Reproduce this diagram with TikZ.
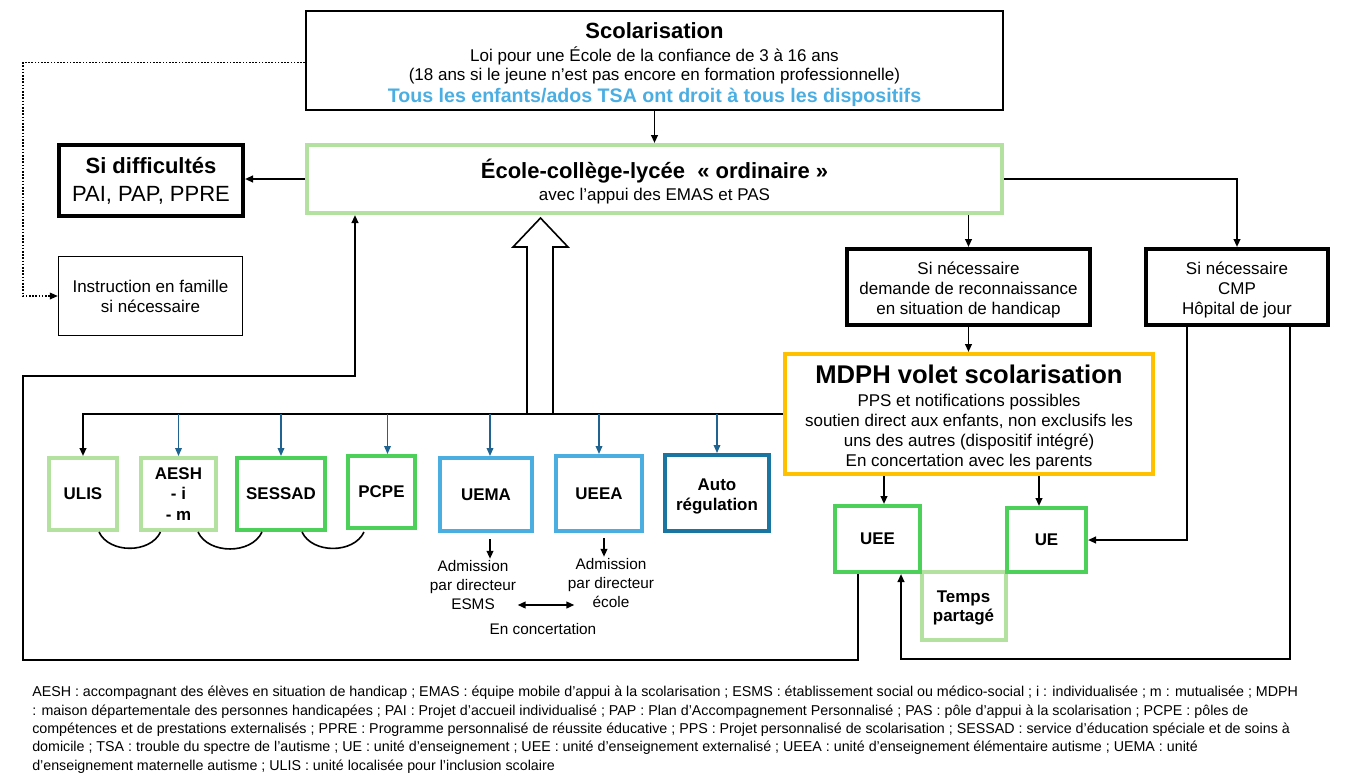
\documentclass[tikz,border=0pt]{standalone}
\usepackage{fontspec}
\setmainfont{Liberation Sans}
\usetikzlibrary{arrows.meta,calc}
\definecolor{lgreen}{HTML}{B3E2A0}
\definecolor{mgreen}{HTML}{4CD05A}
\definecolor{lblue}{HTML}{4AAEE0}
\definecolor{dteal}{HTML}{1A76A0}
\definecolor{arrblue}{HTML}{1F6390}
\definecolor{mdphor}{HTML}{FFC000}
\definecolor{titleblue}{HTML}{4AAEE3}
\newcommand{\fs}[2]{\fontsize{#1}{#2}\selectfont}
\begin{document}
\begin{tikzpicture}[x=0.75pt,y=-0.75pt,
  box/.style={draw, rectangle, align=center, inner sep=0pt, fill=white, font=\fs{12.75}{15}},
  unitbox/.style={box, line width=3pt, font=\fs{12.7}{15.5}\bfseries},
  arr/.style={-{Triangle[length=6pt,width=5pt]}, line width=1.4pt},
  barr/.style={-{Triangle[length=6pt,width=5pt]}, line width=1pt, draw=arrblue, color=arrblue},
  small/.style={align=center, inner sep=1pt, font=\fs{11.5}{14.25}}
]
\fill[white] (0,0) rectangle (1353,779);
\useasboundingbox (0,0) rectangle (1353,779);

% main boxes
\node[box, line width=1.5pt, minimum width=522.75pt, minimum height=74.25pt, font=\fs{12.75}{14.6}] (scol) at (654.5,60.5)
  {{\fs{16.5}{15}\bfseries\rule{0pt}{18pt}Scolarisation}\\[2.6pt]
   Loi pour une École de la confiance de 3 à 16 ans\\
   (18 ans si le jeune n’est pas encore en formation professionnelle)\\[2.2pt]
   {\fs{14.7}{15}\bfseries\color{titleblue}Tous les enfants/ados TSA ont droit à tous les dispositifs}};

\node[box, draw=lgreen, line width=3pt, minimum width=521pt, minimum height=51pt] (ecole) at (654.5,179)
  {{\fs{16.5}{15}\bfseries\rule{0pt}{18.5pt}École-collège-lycée\ \ «~ordinaire~»}\\[1.5pt]
   avec l’appui des EMAS et PAS};

\node[box, line width=3pt, minimum width=138pt, minimum height=53.25pt, font=\fs{16.5}{21}] (sidiff) at (151,180.5)
  {{\bfseries Si difficultés}\\PAI, PAP, PPRE};

\node[box, line width=1pt, minimum width=138pt, minimum height=59.25pt] (instr) at (150.5,296)
  {Instruction en famille\\si nécessaire};

\node[box, line width=3pt, minimum width=182.25pt, minimum height=57pt] (demande) at (968.5,287)
  {\rule{0pt}{14pt}Si nécessaire\\demande de reconnaissance\\en situation de handicap};

\node[box, line width=3pt, minimum width=136.5pt, minimum height=57pt] (cmp) at (1237,287)
  {\rule{0pt}{14pt}Si nécessaire\\CMP\\Hôpital de jour};

\node[box, draw=mdphor, line width=3pt, minimum width=276pt, minimum height=90pt] (mdph) at (969,414)
  {{\fs{19.2}{15}\bfseries\rule{0pt}{19pt}MDPH volet scolarisation}\\[2.5pt]
   PPS et notifications possibles\\
   soutien direct aux enfants, non exclusifs les\\
   uns des autres (dispositif intégré)\\
   En concertation avec les parents};

% bottom row
\node[unitbox, draw=lgreen, minimum width=51pt, minimum height=54pt] (ulis) at (83,494) {ULIS};
\node[unitbox, draw=lgreen, minimum width=56.25pt, minimum height=54pt] (aesh) at (178.5,494) {AESH\\- i\\- m};
\node[unitbox, draw=mgreen, minimum width=66pt, minimum height=54pt] (sessad) at (281,494) {SESSAD};
\node[unitbox, draw=mgreen, minimum width=50.25pt, minimum height=54pt] (pcpe) at (381.5,492) {PCPE};
\node[unitbox, draw=lblue, minimum width=69pt, minimum height=54.75pt] (uema) at (486,494.5) {UEMA};
\node[unitbox, draw=lblue, minimum width=64.5pt, minimum height=56.25pt] (ueea) at (599,493.5) {UEEA};
\node[unitbox, draw=dteal, minimum width=78pt, minimum height=57pt] (auto) at (717,493) {\rule{0pt}{14pt}Auto\\régulation};

\node[unitbox, draw=lgreen, minimum width=63pt, minimum height=51pt, font=\fs{12.7}{14.25}\bfseries] (temps) at (963.5,606) {\rule{0pt}{12pt}Temps\\partagé};
\node[unitbox, draw=mgreen, minimum width=63.75pt, minimum height=49.5pt] (uee) at (877.5,539) {UEE};
\node[unitbox, draw=mgreen, minimum width=59.25pt, minimum height=48pt] (ue) at (1046.5,540) {UE};

% admission texts
\node[small] (admA) at (473,585) {Admission\\par directeur\\ESMS};
\node[small] (admB) at (611,583) {Admission\\par directeur\\école};
\node[small] (conc) at (543,629) {En concertation};

% legend
\node[anchor=north west, align=left, inner sep=0pt, font=\fs{10.7}{13.8}] (legend) at (32,686)
  {AESH : accompagnant des élèves en situation de handicap ; EMAS : équipe mobile d’appui à la scolarisation ; ESMS : établissement social ou médico-social ; i : individualisée ; m : mutualisée ; MDPH\\
   : maison départementale des personnes handicapées ; PAI : Projet d'accueil individualisé ; PAP : Plan d'Accompagnement Personnalisé ; PAS : pôle d’appui à la scolarisation ; PCPE : pôles de\\
   compétences et de prestations externalisés ; PPRE : Programme personnalisé de réussite éducative ; PPS : Projet personnalisé de scolarisation ; SESSAD : service d'éducation spéciale et de soins à\\
   domicile ; TSA : trouble du spectre de l’autisme ; UE : unité d’enseignement ; UEE : unité d’enseignement externalisé ; UEEA : unité d’enseignement élémentaire autisme ; UEMA : unité\\
   d’enseignement maternelle autisme ; ULIS : unité localisée pour l'inclusion scolaire};

% coordinates
\coordinate (dotL) at (23,0);
\coordinate (fbA) at (858,660);
\coordinate (fbB) at (23,660);
\coordinate (fbC) at (23,376);
\coordinate (fbD) at (355,376);
\coordinate (cmpA) at (1187,540);
\coordinate (cmpB) at (1290,659);
\coordinate (cmpC) at (901,659);
\coordinate (m1) at (884,0);
\coordinate (m2) at (1039,0);
\coordinate (pcpeTop) at ($(pcpe.north)+(6,0)$);
\coordinate (uemaX) at (490,0);
\coordinate (ueeaX) at (604,0);
\coordinate (ccY) at (0,605);

% hollow arrow
\draw[line width=1.2pt, fill=white] (527,414) -- (527,247) -- (513,247) -- (540.5,218) -- (568,247) -- (553,247) -- (553,414);

% connectors
\draw[arr] (scol.south) -- (ecole.north);
\draw[arr] (ecole.west) -- (sidiff.east |- ecole.west);
\draw[-{Triangle[length=6pt,width=5pt]}, line width=1.1pt, dash pattern=on 1.2pt off 1.2pt]
  ([yshift=-1.5pt]scol.west) -- ([yshift=-1.5pt]scol.west -| dotL) -- (instr.west -| dotL) -- (instr.west);
\draw[arr] (ecole.south -| demande.north) -- (demande.north);
\draw[arr] (ecole.east) -| (cmp.north);
\draw[arr] (demande.south) -- (mdph.north -| demande.south);

\draw[arr] (mdph.west) -| (ulis.north);
\draw[barr] (aesh.north |- mdph.west) -- (aesh.north);
\draw[barr] (sessad.north |- mdph.west) -- (sessad.north);
\draw[barr] (pcpeTop |- mdph.west) -- (pcpeTop);
\draw[barr] (uemaX |- mdph.west) -- (uema.north -| uemaX);
\draw[barr] (ueea.north |- mdph.west) -- (ueea.north);
\draw[barr] (auto.north |- mdph.west) -- (auto.north);

\draw[arr] (mdph.south -| m1) -- (uee.north -| m1);
\draw[arr] (mdph.south -| m2) -- (ue.north -| m2);

\draw[arr] (uee.south -| fbA) -- (fbA) -- (fbB) -- (fbC) -- (fbD) -- (ecole.south -| fbD);
\draw[arr] (cmp.south -| cmpA) -- (cmpA) -- (ue.east);
\draw[arr] (cmp.south -| cmpB) -- (cmpB) -- (cmpC) -- (uee.south -| cmpC);

% arcs
\draw[line width=1.2pt] ($(ulis.south)+(16,0)$) to[out=-65,in=-115] ($(aesh.south)+(-18,0)$);
\draw[line width=1.2pt] ($(aesh.south)+(19.5,0)$) to[out=-65,in=-115] ($(sessad.south)+(-19,0)$);
\draw[line width=1.2pt] ($(sessad.south)+(21,0)$) to[out=-65,in=-115] ($(pcpe.south)+(-17.5,2)$);

% admission arrows
\draw[arr] ($(uema.south -| uemaX)+(0,6)$) -- (admA.north -| uemaX);
\draw[arr] ($(ueea.south -| ueeaX)+(0,5)$) -- (admB.north -| ueeaX);
\draw[{Triangle[length=6pt,width=5pt]}-{Triangle[length=6pt,width=5pt]}, line width=1.4pt]
  (admA.east |- ccY) -- ($(admB.west |- ccY)+(8,0)$);
\end{tikzpicture}
\end{document}
